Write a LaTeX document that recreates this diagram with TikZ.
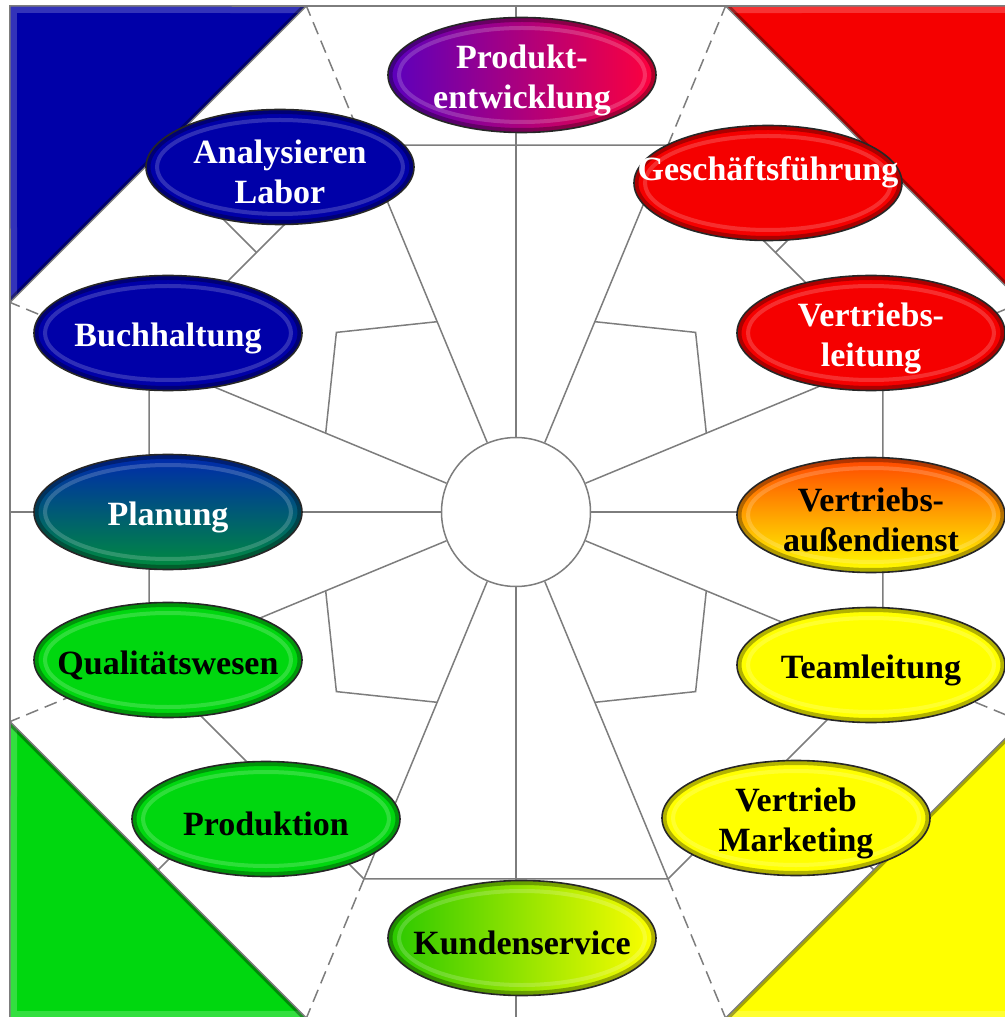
\documentclass[tikz,border=0pt]{standalone}
\usepackage{fontspec}
\setmainfont{Liberation Serif}
\usetikzlibrary{shapes.geometric}
\definecolor{blau}{RGB}{0,0,168}
\definecolor{rot}{RGB}{245,0,0}
\definecolor{gruen}{RGB}{0,215,15}
\definecolor{gelb}{RGB}{255,255,0}
\definecolor{linie}{RGB}{125,125,125}
\tikzset{
  Linie/.style={draw=linie, line width=1.5pt},
  Strich/.style={Linie, dash pattern=on 13pt off 7pt},
  Abteilung/.style={ellipse, draw=black!85, line width=1.6pt, minimum width=268pt, minimum height=115pt, inner sep=0pt,
    path picture={
      \draw[black, opacity=.3, line width=9pt] (path picture bounding box.center) ellipse [x radius=134pt, y radius=57.5pt];
      \draw[white, opacity=.18, line width=4pt] (path picture bounding box.center) ellipse [x radius=123pt, y radius=47pt];
    }},
  Schrift/.style={font=\fontsize{34}{40}\selectfont\bfseries, align=center, inner sep=0pt, yshift=-5pt},
  Hell/.style={Schrift, text=white},
  Dunkel/.style={Schrift, text=black}
}

\begin{document}
\begin{tikzpicture}[x=1pt, y=1pt]
  \useasboundingbox (-516,-505) rectangle (488,512);

  %Punkte
  \foreach \i in {1,...,8} {
    \pgfmathsetmacro\a{45*\i-22.5}
    \coordinate (e\i) at (\a:397.2);
    \coordinate (r\i) at (\a:547.7);
  }
  \foreach \i in {1,...,4} {
    \pgfmathsetmacro\a{90*\i-45}
    \coordinate (m\i) at (\a:367);
    \coordinate (c\i) at (\a:715.6);
    \coordinate (k\i) at (\a-45:506);
  }

  %Rahmen und Mitte
  \draw[Linie, line width=1.8pt] (c2) rectangle (c4);
  \node[circle, Linie, fill=white, minimum size=149pt] (mitte) at (0,0) {};

  %Linien
  \draw[Linie] (e1) -- (e2) -- (e3) -- (e4) -- (e5) -- (e6) -- (e7) -- (e8) -- cycle;
  \foreach \i in {1,...,8} {
    \draw[Linie] (mitte) -- (e\i);
    \draw[Strich] (e\i) -- (r\i);
  }
  \foreach \i in {1,...,4} {
    \draw[Linie] (mitte) -- (k\i);
    \draw[Linie] (m\i) -- (c\i);
  }
  \draw[Linie] (22.5:206) -- (45:254) -- (67.5:206);
  \draw[Linie] (112.5:206) -- (135:254) -- (157.5:206);
  \draw[Linie] (202.5:206) -- (225:254) -- (247.5:206);
  \draw[Linie] (292.5:206) -- (315:254) -- (337.5:206);

  %Ecken
  \foreach \c/\p/\q/\f in {c1/r1/r2/rot, c2/r3/r4/blau, c3/r5/r6/gruen, c4/r7/r8/gelb} {
    \begin{scope}
      \clip (\c) -- (\p) -- (\q) -- cycle;
      \fill[\f] (\c) -- (\p) -- (\q) -- cycle;
      \draw[white, opacity=.2, line width=14pt] (\p) -- (\c) -- (\q);
      \draw[black, opacity=.35, line width=7pt] (\p) -- (\q);
    \end{scope}
    \draw[Linie] (\c) -- (\p) -- (\q) -- cycle;
  }

  %Abteilungen
  \node[Abteilung, left color={rgb,255:red,90;green,0;blue,190}, right color={rgb,255:red,255;green,0;blue,60},
        label={[Hell]center:Produkt-\\entwicklung}] (prod) at (6,437) {};
  \node[Abteilung, fill=blau, label={[Hell]center:Analysieren\\Labor}] (labor) at (-236,345) {};
  \node[Abteilung, fill=rot, label={[Hell, yshift=16pt]center:Geschäftsführung}] (gf) at (252,329) {};
  \node[Abteilung, fill=blau, label={[Hell]center:Buchhaltung}] (buch) at (-348,179) {};
  \node[Abteilung, fill=rot, label={[Hell]center:Vertriebs-\\leitung}] (vleit) at (355,179) {};
  \node[Abteilung, top color={rgb,255:red,0;green,40;blue,175}, bottom color={rgb,255:red,0;green,140;blue,60},
        label={[Hell]center:Planung}] (plan) at (-348,0) {};
  \node[Abteilung, top color={rgb,255:red,255;green,70;blue,0}, bottom color=gelb,
        label={[Dunkel]center:Vertriebs-\\außendienst}] (vad) at (355,-3) {};
  \node[Abteilung, fill=gruen, label={[Dunkel]center:Qualitätswesen}] (qual) at (-348,-148) {};
  \node[Abteilung, fill=gelb, label={[Dunkel]center:Teamleitung}] (team) at (355,-153) {};
  \node[Abteilung, fill=gruen, label={[Dunkel]center:Produktion}] (produktion) at (-250,-307) {};
  \node[Abteilung, fill=gelb, label={[Dunkel]center:Vertrieb\\Marketing}] (vmark) at (280,-306) {};
  \node[Abteilung, left color={rgb,255:red,40;green,200;blue,0}, right color=gelb,
        label={[Dunkel]center:Kundenservice}] (kunden) at (6,-426) {};
\end{tikzpicture}
\end{document}
